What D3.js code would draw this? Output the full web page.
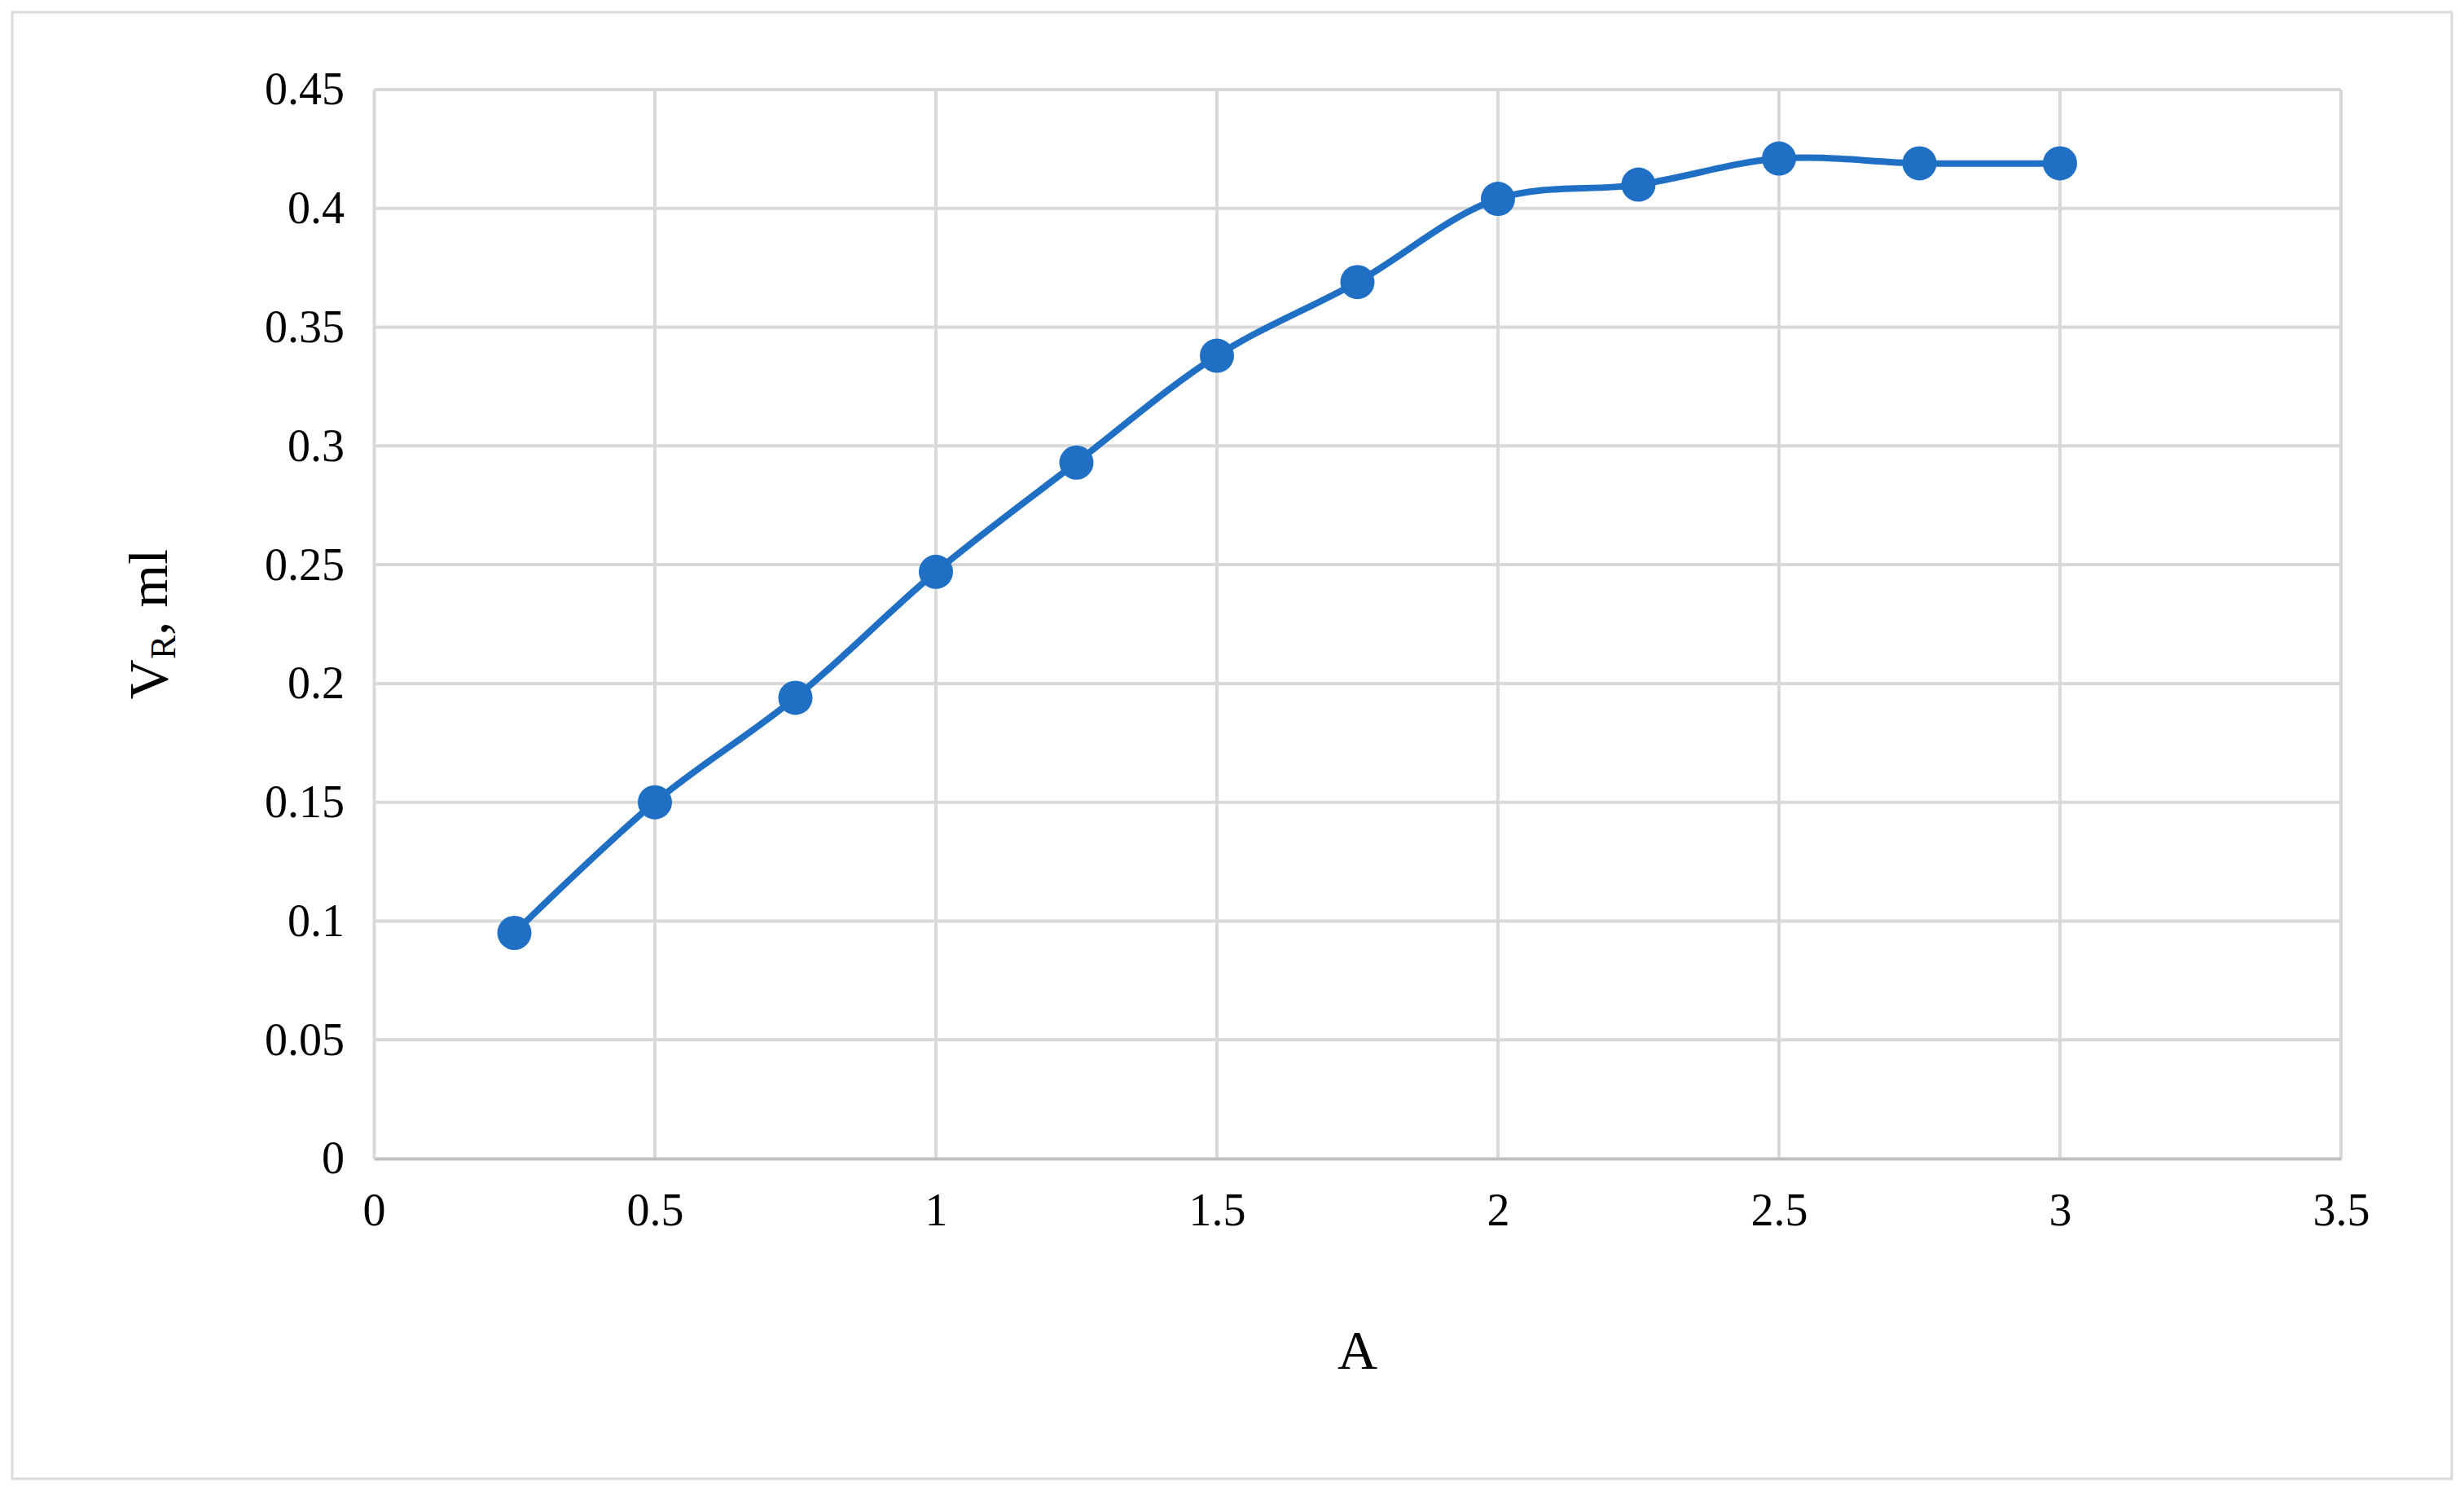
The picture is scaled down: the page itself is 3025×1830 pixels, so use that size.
<!DOCTYPE html>
<html><head><meta charset="utf-8">
<script src="https://cdn.jsdelivr.net/npm/d3@7"></script>
<style>body{margin:0;background:#fff}</style>
</head><body>
<script>
const W=3025, H=1830
const xs=[0.25,0.5,0.75,1,1.25,1.5,1.75,2,2.25,2.5,2.75,3]
const ys=[0.095,0.15,0.194,0.247,0.293,0.338,0.369,0.404,0.41,0.421,0.419,0.419]
const xTicks=[0,0.5,1,1.5,2,2.5,3,3.5]
const yTicks=[0,0.05,0.1,0.15,0.2,0.25,0.3,0.35,0.4,0.45]
const data=xs.map((x,i)=>({x,y:ys[i]}))

const pLeft=459, pRight=2874, pTop=110, pBottom=1422
const font="'Liberation Serif', serif"
const col="#1f6fc5"

const x=d3.scaleLinear().domain([0,3.5]).range([pLeft,pRight])
const y=d3.scaleLinear().domain([0,0.45]).range([pBottom,pTop])

const svg=d3.select("body").append("svg").attr("width",W).attr("height",H)
svg.append("rect").attr("x",15).attr("y",15).attr("width",W-30).attr("height",H-30)
  .attr("fill","#fff").attr("stroke","#d9d9d9").attr("stroke-width",3)

//grid
svg.append("g").selectAll("line").data(yTicks.slice(1)).join("line")
  .attr("x1",pLeft).attr("x2",pRight).attr("y1",d=>y(d)).attr("y2",d=>y(d))
  .attr("stroke","#d9d9d9").attr("stroke-width",4)
svg.append("g").selectAll("line").data(xTicks.slice(1)).join("line")
  .attr("y1",pTop).attr("y2",pBottom).attr("x1",d=>x(d)).attr("x2",d=>x(d))
  .attr("stroke","#d9d9d9").attr("stroke-width",4)

//axes
const gx=svg.append("g").attr("transform",`translate(0,${pBottom})`)
  .call(d3.axisBottom(x).tickValues(xTicks).tickFormat(d3.format("")).tickSize(0).tickPadding(42))
const gy=svg.append("g").attr("transform",`translate(${pLeft},0)`)
  .call(d3.axisLeft(y).tickValues(yTicks).tickFormat(d3.format("")).tickSize(0).tickPadding(36))
for(const g of [gx,gy]){
  g.select(".domain").attr("stroke","#bfbfbf").attr("stroke-width",4)
  g.selectAll("text").attr("font-family",font).attr("font-size",56).attr("fill","#000")
}
gy.select(".domain").attr("stroke","#d9d9d9")

//line
svg.append("path").datum(data)
  .attr("d",d3.line().x(d=>x(d.x)).y(d=>y(d.y)).curve(d3.curveCatmullRom.alpha(0.5)))
  .attr("fill","none").attr("stroke",col).attr("stroke-width",8)
svg.append("g").selectAll("circle").data(data).join("circle")
  .attr("cx",d=>x(d.x)).attr("cy",d=>y(d.y)).attr("r",21).attr("fill",col)

//labels
svg.append("text").attr("x",(pLeft+pRight)/2).attr("y",1680).attr("text-anchor","middle")
  .attr("font-family",font).attr("font-size",68).text("A")
const yl=svg.append("text").attr("transform","translate(205,766) rotate(-90)").attr("text-anchor","middle")
  .attr("font-family",font).attr("font-size",68)
yl.append("tspan").text("V")
yl.append("tspan").attr("font-size",44).attr("dy",10).text("R")
yl.append("tspan").attr("dy",-10).text(", ml")
</script>
</body></html>
